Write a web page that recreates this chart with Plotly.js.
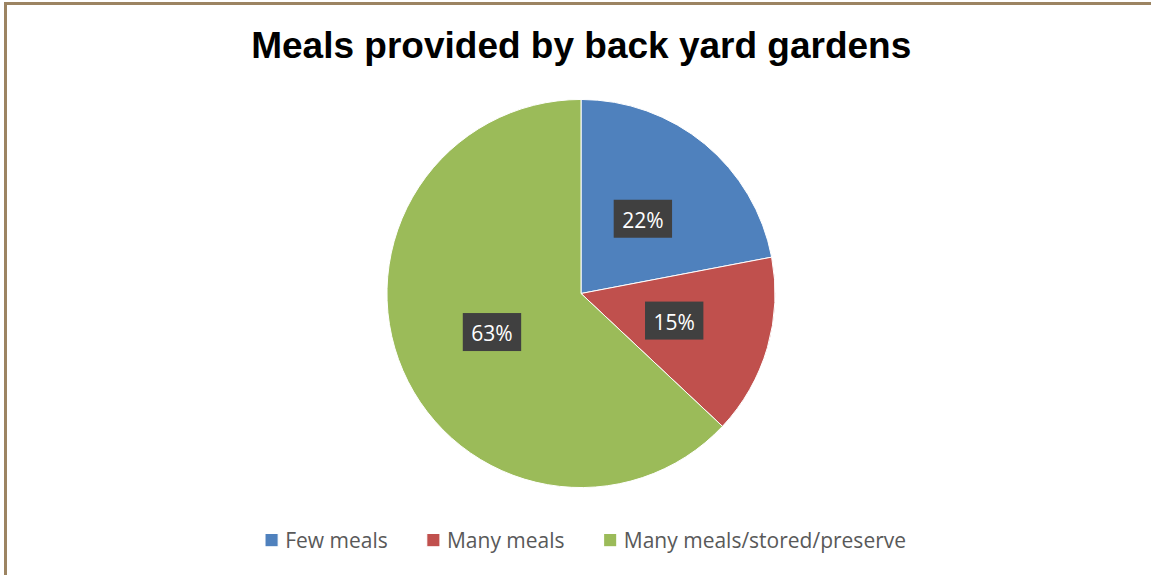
<!DOCTYPE html>
<html>
<head>
<meta charset="utf-8">
<script src="https://cdn.plot.ly/plotly-3.0.1.min.js"></script>
<style>
html,body{margin:0;padding:0;background:#fff;}
#wrap{position:relative;width:1151px;height:575px;}
#chart{width:1151px;height:575px;}
#bl{position:absolute;left:4px;top:2px;width:3px;height:573px;background:#9c8462;}
#bt{position:absolute;left:4px;top:2px;width:1147px;height:3px;background:#9c8462;}
</style>
</head>
<body>
<div id="wrap">
<div id="chart"></div>
<div id="bl"></div><div id="bt"></div>
</div>
<script>
const categories = ["Few meals", "Many meals", "Many meals/stored/preserve"];
const values = [22, 15, 63];
const colors = ["#4f81bd", "#c0504d", "#9bbb59"];

const LEGEND_X = 0.5087;

const trace = {
  type: "pie",
  labels: categories,
  values: values,
  sort: false,
  direction: "clockwise",
  rotation: 0,
  marker: {colors: colors, line: {color: "#ffffff", width: 1}},
  textinfo: "percent",
  texttemplate: "%{percent:.0%}",
  textposition: "inside",
  insidetextorientation: "horizontal",
  insidetextfont: {family: "Open Sans, sans-serif", size: 21, color: "#ffffff"},
  hoverinfo: "label+percent",
  domain: {x: [0.3362, 0.6734], y: [0.1513, 0.8278]}
};

const layout = {
  width: 1151, height: 575,
  margin: {l: 0, r: 0, t: 0, b: 0},
  paper_bgcolor: "#ffffff",
  title: {
    text: "<b>Meals provided by back yard gardens</b>",
    font: {family: "Liberation Sans, Arial, sans-serif", size: 37, color: "#000000"},
    x: 0.505, xanchor: "center", y: 0.922, yanchor: "middle"
  },
  showlegend: true,
  legend: {
    orientation: "h", x: LEGEND_X, xanchor: "center", y: 0.06, yanchor: "middle",
    font: {family: "Open Sans, sans-serif", size: 21, color: "#595959"},
    traceorder: "normal"
  }
};

const gd = document.getElementById("chart");
Plotly.newPlot(gd, [trace], layout, {displayModeBar: false, staticPlot: true}).then(function(){
  const ns = "http://www.w3.org/2000/svg";
  // --- data labels: place at half radius on slice bisector, dark box behind ---
  const cd0 = gd.calcdata[0][0];
  const cx = cd0.cx, cy = cd0.cy, r = cd0.r;
  const total = values.reduce((a, b) => a + b, 0);
  let cum = 0;
  const slices = document.querySelectorAll("g.slice");
  slices.forEach(function(g, i){
    const v = values[i];
    const th = 2 * Math.PI * (cum + v / 2) / total;
    cum += v;
    const tx = cx + 0.5 * r * Math.sin(th);
    const ty = cy - 0.5 * r * Math.cos(th);
    const t = g.querySelector("g.slicetext text");
    if(!t) return;
    const bb = t.getBBox();
    t.setAttribute("transform", "translate(" + (tx - (bb.x + bb.width / 2)) + "," + (ty - (bb.y + bb.height / 2) + 1) + ")");
    const w = bb.width + 17, h = 38;
    const rc = document.createElementNS(ns, "rect");
    rc.setAttribute("x", tx - w / 2);
    rc.setAttribute("y", ty - h / 2);
    rc.setAttribute("width", w);
    rc.setAttribute("height", h);
    rc.setAttribute("fill", "#404040");
    t.parentNode.insertBefore(rc, t);
  });
  // --- legend spacing like the original ---
  document.querySelectorAll(".legend [clip-path]").forEach(function(e){ e.removeAttribute("clip-path"); });
  const items = Array.from(document.querySelectorAll(".legend g.traces"));
  const info = items.map(function(it){
    const sym = it.querySelector(".legendpoints path") || it.querySelector(".legendpoints");
    const txt = it.querySelector("text.legendtext");
    sym.setAttribute("transform", (sym.getAttribute("transform") || "") + " scale(1.1)");
    return {it: it, sym: sym, txt: txt, sr: sym.getBoundingClientRect(), tr: txt.getBoundingClientRect()};
  });
  const gapST = 7, gapIt = 39;
  let totalW = 0;
  info.forEach(function(o, i){ totalW += o.sr.width + gapST + o.tr.width + (i ? gapIt : 0); });
  const wrapLeft = gd.getBoundingClientRect().left;
  let cursor = wrapLeft + LEGEND_X * 1151 - totalW / 2;
  info.forEach(function(o){
    const dx = cursor - o.sr.left;
    const tf = o.it.getAttribute("transform") || "translate(0,0)";
    const m = tf.match(/translate\(\s*([-\d.e]+)[ ,]+([-\d.e]+)\s*\)/);
    const a = m ? parseFloat(m[1]) : 0, b = m ? parseFloat(m[2]) : 0;
    o.it.setAttribute("transform", "translate(" + (a + dx) + "," + b + ")");
    const desiredText = cursor + o.sr.width + gapST;
    const delta = desiredText - (o.tr.left + dx);
    o.txt.setAttribute("x", parseFloat(o.txt.getAttribute("x") || 0) + delta);
    cursor += o.sr.width + gapST + o.tr.width + gapIt;
  });
});
</script>
</body>
</html>
